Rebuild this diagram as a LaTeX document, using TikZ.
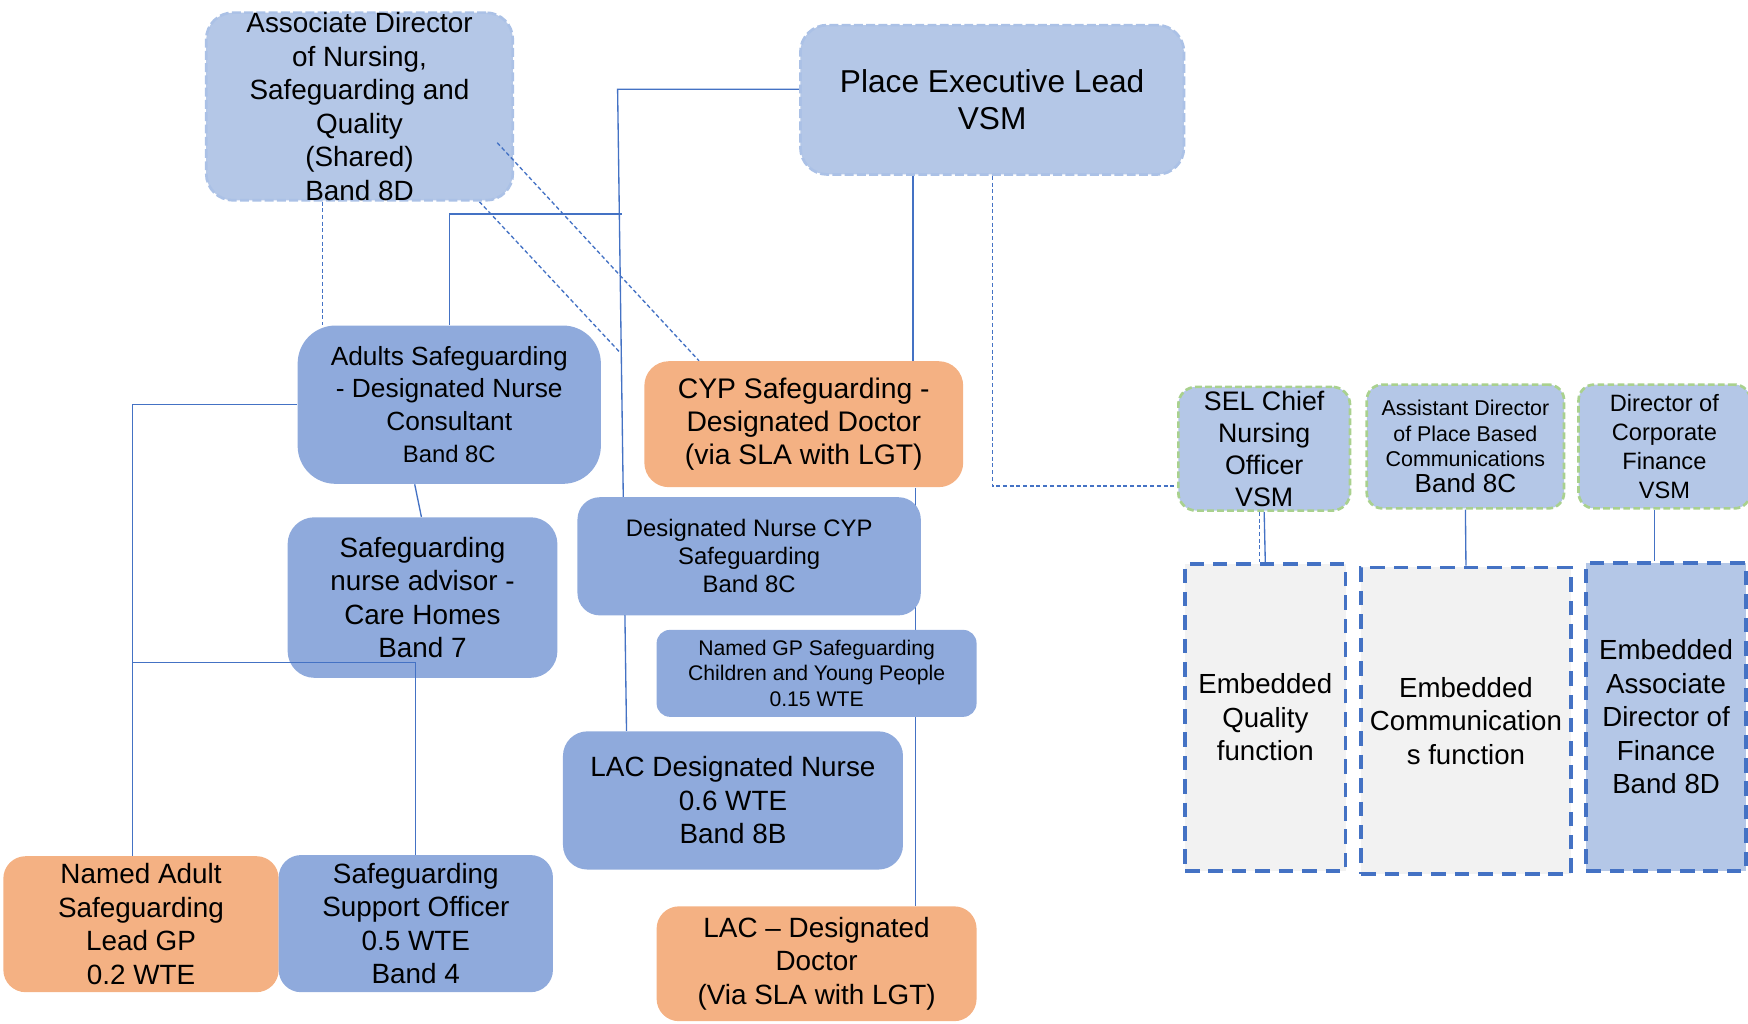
\documentclass[tikz,border=0pt]{standalone}
\usepackage{fontspec}
\setmainfont{Liberation Sans}
\pgfdeclarelayer{background}
\pgfdeclarelayer{foreground}
\pgfsetlayers{background,main,foreground}
\definecolor{lblue}{HTML}{B4C7E7}
\definecolor{mblue}{HTML}{8FAADC}
\definecolor{orng}{HTML}{F4B183}
\definecolor{gry}{HTML}{F2F2F2}
\definecolor{lnblue}{HTML}{4472C4}
\definecolor{grn}{HTML}{A9D18E}
\definecolor{lbborder}{HTML}{ABC1E6}
\tikzset{
  bx/.style={align=center, inner sep=0pt, text=black},
  topbox/.style={bx, fill=lblue, draw=lbborder, line width=1.2pt, dash pattern=on 4pt off 1.5pt, rounded corners=12pt},
  bluebox/.style={bx, fill=mblue},
  orangebox/.style={bx, fill=orng},
  greenbox/.style={bx, fill=lblue, draw=grn, line width=1.2pt, dash pattern=on 3pt off 1.5pt, rounded corners=7pt},
  embbox/.style={bx, draw=lnblue, line width=1.7pt, dash pattern=on 6.5pt off 4pt},
  conn/.style={draw=lnblue, line width=0.6pt},
  dconn/.style={draw=lnblue, line width=0.6pt, dash pattern=on 1.8pt off 1.2pt},
}
\begin{document}
\begin{tikzpicture}[x=0.5pt, y=-0.5pt]
\useasboundingbox (0,0) rectangle (1568,918);

% top boxes
\node[topbox, minimum width=137.5pt, minimum height=82.5pt, font=\fontsize{12.5}{15}\selectfont] (assoc) at (322.5,95.5)
  {Associate Director\\of Nursing,\\Safeguarding and\\Quality\\(Shared)\\Band 8D};
\node[topbox, minimum width=172pt, minimum height=67pt, font=\fontsize{14.2}{16.5}\selectfont] (place) at (890,89.5)
  {Place Executive Lead\\VSM};

% left column
\node[bluebox, rounded corners=17pt, minimum width=136pt, minimum height=71pt, font=\fontsize{11.8}{14.5}\selectfont] (adults) at (403,363)
  {Adults Safeguarding\\- Designated Nurse\\Consultant\\{\fontsize{10.7}{12.5}\selectfont Band 8C}};
\node[bluebox, rounded corners=12pt, minimum width=121pt, minimum height=72pt, font=\fontsize{12.5}{15}\selectfont] (advisor) at (379,536)
  {Safeguarding\\nurse advisor -\\Care Homes\\Band 7};
\node[orangebox, rounded corners=10pt, minimum width=123.5pt, minimum height=61pt, font=\fontsize{12.5}{15}\selectfont] (nadult) at (126.5,829)
  {Named Adult\\Safeguarding\\Lead GP\\0.2 WTE};
\node[bluebox, rounded corners=10pt, minimum width=123pt, minimum height=61.5pt, font=\fontsize{12.5}{15}\selectfont] (support) at (373,828.5)
  {Safeguarding\\Support Officer\\0.5 WTE\\Band 4};

% middle column
\node[orangebox, rounded corners=11pt, minimum width=143pt, minimum height=56.5pt, font=\fontsize{12.7}{15}\selectfont] (cyp) at (721,380.5)
  {CYP Safeguarding -\\Designated Doctor\\(via SLA with LGT)};
\node[bluebox, rounded corners=10pt, minimum width=154pt, minimum height=53pt, font=\fontsize{10.7}{12.5}\selectfont] (desn) at (672,499)
  {Designated Nurse CYP\\Safeguarding\\Band 8C};
\node[bluebox, rounded corners=6pt, minimum width=143.5pt, minimum height=39pt, font=\fontsize{9.5}{11.5}\selectfont] (ngp) at (732.5,604)
  {Named GP Safeguarding\\Children and Young People\\0.15 WTE};
\node[bluebox, rounded corners=11pt, minimum width=152.5pt, minimum height=62pt, font=\fontsize{12.5}{15}\selectfont] (lacn) at (657.5,718)
  {LAC Designated Nurse\\0.6 WTE\\Band 8B};
\node[orangebox, rounded corners=10pt, minimum width=143.5pt, minimum height=51.5pt, font=\fontsize{12.5}{15}\selectfont] (lacd) at (732.5,864.5)
  {LAC -- Designated\\Doctor\\(Via SLA with LGT)};

% right group
\node[greenbox, rounded corners=8pt, minimum width=77pt, minimum height=55.5pt, font=\fontsize{12}{14.3}\selectfont] (sel) at (1134,402.5)
  {SEL Chief\\Nursing\\Officer\\VSM};
\node[greenbox, minimum width=88.5pt, minimum height=55.5pt, font=\fontsize{9.6}{11.5}\selectfont] (asst) at (1314.5,400.5)
  {Assistant Director\\of Place Based\\Communications\\{\fontsize{11.7}{13}\selectfont Band 8C}};
\node[greenbox, minimum width=77pt, minimum height=55.5pt, font=\fontsize{10.6}{13}\selectfont] (dirc) at (1493,400.5)
  {Director of\\Corporate\\Finance\\VSM};

\node[embbox, fill=gry, minimum width=72pt, minimum height=137.5pt, font=\fontsize{12.4}{15}\selectfont] (embq) at (1135,643.5)
  {Embedded\\Quality\\function};
\node[embbox, fill=gry, minimum width=94pt, minimum height=137.5pt, font=\fontsize{12.4}{15}\selectfont] (embc) at (1315,646.5)
  {Embedded\\Communication\\s function};
\node[embbox, fill=lblue, minimum width=71.5pt, minimum height=138pt, font=\fontsize{12.4}{15}\selectfont] (embf) at (1494.5,643)
  {Embedded\\Associate\\Director of\\Finance\\Band 8D};

\coordinate (diagend) at (556,316);
\coordinate (adjoin) at (558,192);
\coordinate (leftjoin) at (119,594);

\begin{pgfonlayer}{background}
  % dashed from associate director
  \draw[dconn] (289,0 |- assoc.south) -- (289,0 |- adults.north);
  \draw[dconn] (430,0 |- assoc.south) -- (diagend);
  % adults up to the vertical
  \draw[conn] (adults.north) -- (adults.north |- adjoin) -- (adjoin);
  % place exec to LAC nurse
  \draw[conn] (554,80 -| place.west) -- (554,80) -- (562,0 |- lacn.north);
  % place exec to CYP doctor
  \draw[conn] (819,0 |- place.south) -- (819,0 |- cyp.north);
  \draw[conn] (821,0 |- cyp.south) -- (821,0 |- lacd.north);
  % place exec dashed to SEL
  \draw[dconn] (place.south) -- (place.south |- 0,436) -- (sel.west |- 0,436);
  % adults to named adult
  \draw[conn] (adults.west) -- (119,0 |- adults.west) -- (119,0 |- nadult.north);
  % adults to advisor
  \draw[conn] (372,0 |- adults.south) -- (378,0 |- advisor.north);
  % right group
  \draw[conn] (sel.south) -- (embq.north);
  \draw[dconn] (1130,0 |- sel.south) -- (1130,0 |- embq.north);
  \draw[conn] (asst.south) -- (1315,0 |- embc.north);
  \draw[conn] (1484,0 |- dirc.south) -- (1484,0 |- embf.north);
\end{pgfonlayer}

\begin{pgfonlayer}{foreground}
  \draw[dconn] (446,128) coordinate (associnner) -- (627,0 |- cyp.north);
  \draw[conn] (leftjoin) -- (leftjoin -| support.north) -- (support.north);
\end{pgfonlayer}
\end{tikzpicture}
\end{document}
